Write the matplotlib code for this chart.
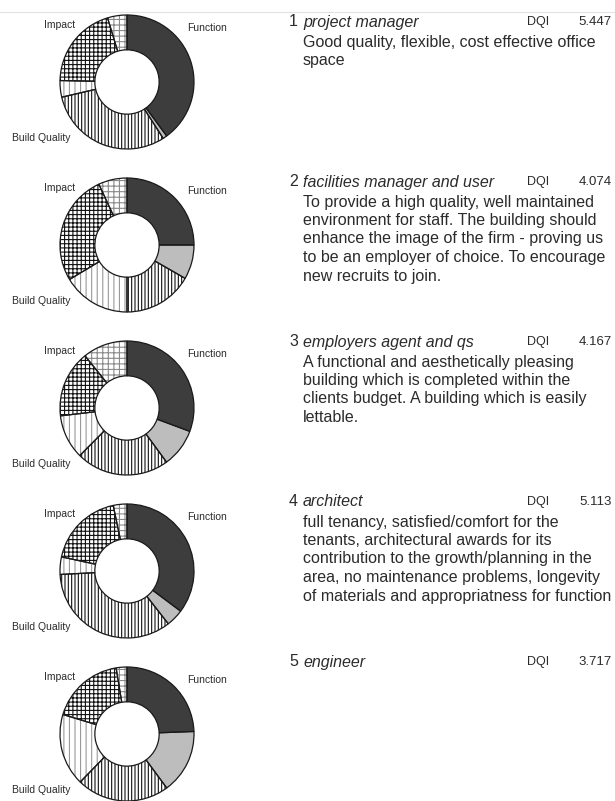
import matplotlib
matplotlib.use("Agg")
import matplotlib.pyplot as plt

plt.rcParams['font.family'] = ['Liberation Sans', 'DejaVu Sans']
plt.rcParams['hatch.linewidth'] = 0.8

W, H = 615, 801

# share of each design quality field per respondent (clockwise from 12 o'clock)
function = [0.40, 0.25, 0.307, 0.352, 0.244]
function_other = [0.01, 0.083, 0.093, 0.042, 0.155]
build_main = [0.305, 0.167, 0.225, 0.347, 0.224]
build_other = [0.04, 0.164, 0.107, 0.042, 0.174]
impact_main = [0.20, 0.267, 0.161, 0.183, 0.177]
impact_other = [0.047, 0.069, 0.108, 0.033, 0.026]

roles = ["project manager", "facilities manager and user", "employers agent and qs",
         "architect", "engineer"]
dqi = ["5.447", "4.074", "4.167", "5.113", "3.717"]
statements = [
    ["Good quality, flexible, cost effective office", "space"],
    ["To provide a high quality, well maintained",
     "environment for staff. The building should",
     "enhance the image of the firm - proving us",
     "to be an employer of choice. To encourage",
     "new recruits to join."],
    ["A functional and aesthetically pleasing",
     "building which is completed within the",
     "clients budget. A building which is easily",
     "lettable."],
    ["full tenancy, satisfied/comfort for the",
     "tenants, architectural awards for its",
     "contribution to the growth/planning in the",
     "area, no maintenance problems, longevity",
     "of materials and appropriatness for function"],
    [],
]

# (facecolor, hatch, hatch colour) per segment
styles = [
    ("#3d3d3d", None, None),
    ("#bdbdbd", None, None),
    ("white", "|||||", "#111111"),
    ("white", "|||", "#999999"),
    ("white", "++++", "#111111"),
    ("white", "+++", "#8a8a8a"),
]

txt_col = "#2b2b2b"

fig = plt.figure(figsize=(W / 100, H / 100), dpi=100)
ax = fig.add_axes([0, 0, 1, 1])

# faint rule along the top of the scan
ax.plot([0, W], [H - 12, H - 12], color="#e2e2e2", lw=0.8)

r_out = 67
ring = 0.52

for i in range(5):
    cx, cy = 127, H - (82 + 163 * i)
    vals = [function[i], function_other[i], build_main[i], build_other[i],
            impact_main[i], impact_other[i]]
    wedges, _ = ax.pie(vals, center=(cx, cy), radius=r_out, startangle=90,
                       counterclock=False, frame=True,
                       wedgeprops=dict(width=r_out * ring, linewidth=0))
    for w, (fc, hatch, hc) in zip(wedges, styles):
        w.set_facecolor(fc)
        if hatch:
            w.set_hatch(hatch)
            w.set_edgecolor(hc)
    ax.pie(vals, center=(cx, cy), radius=r_out, startangle=90,
           counterclock=False, frame=True,
           wedgeprops=dict(width=r_out * ring, facecolor="none",
                           edgecolor="#1a1a1a", linewidth=0.9))

    ax.text(cx + 60, cy + 54, "Function", fontsize=7.5, color=txt_col,
            ha="left", va="center")
    ax.text(cx - 52, cy + 57, "Impact", fontsize=7.5, color=txt_col,
            ha="right", va="center")
    ax.text(cx - 115, cy - 56, "Build Quality", fontsize=7.5, color=txt_col,
            ha="left", va="center")

    ty = H - (22 + 160 * i)
    ax.text(289, ty, str(i + 1), fontsize=11.5, color=txt_col, va="center")
    ax.text(303, ty, roles[i], fontsize=11.5, color=txt_col, va="center",
            style="italic")
    ax.text(527, ty, "DQI", fontsize=9, color=txt_col, va="center")
    ax.text(612, ty, dqi[i], fontsize=9.5, color=txt_col, va="center", ha="right")
    for j, line in enumerate(statements[i]):
        ax.text(303, ty - 20 - 18.5 * j, line, fontsize=11.5, color=txt_col,
                va="center")

ax.set_xlim(0, W)
ax.set_ylim(0, H)
ax.axis("off")

fig.savefig("out.png", dpi=100)
